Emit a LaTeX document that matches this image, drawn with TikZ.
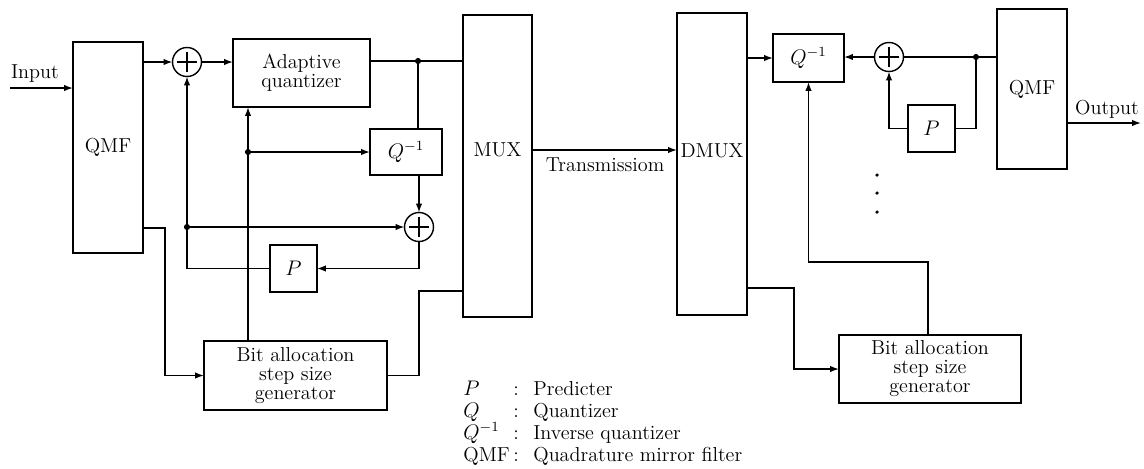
\documentclass[tikz,border=0pt]{standalone}
\usetikzlibrary{arrows.meta}
\begin{document}
\begin{tikzpicture}[x=0.02cm,y=-0.02cm,
  every node/.style={font=\fontsize{11.5}{10.8}\selectfont},
  blk/.style={draw, line width=0.8pt, inner sep=0pt, outer sep=0pt, align=center},
  sumnode/.style={draw, circle, line width=0.8pt, minimum size=0.58cm, inner sep=0pt, outer sep=0pt,
    path picture={\draw[line width=0.8pt]
      ([yshift=-0.2cm]path picture bounding box.center) -- ([yshift=0.2cm]path picture bounding box.center)
      ([xshift=-0.2cm]path picture bounding box.center) -- ([xshift=0.2cm]path picture bounding box.center);}},
  wire/.style={line width=0.8pt},
  arr/.style={wire, -{Latex[length=5pt,width=3.6pt]}},
  jdot/.style={circle, fill, inner sep=0pt, outer sep=0pt, minimum size=3.5pt},
  vdot/.style={circle, fill, inner sep=0pt, minimum size=2pt},
  lg/.style={anchor=base west, inner sep=0pt}]
\useasboundingbox (0,0) rectangle (1144,468);

% ---- left side blocks
\node[blk, minimum width=1.4cm, minimum height=4.22cm] (qmfL) at (108,147.5) {QMF};
\node[blk, minimum width=2.74cm, minimum height=1.36cm] (aq) at (301.5,73) {Adaptive\\quantizer};
\node[blk, minimum width=1.44cm, minimum height=0.92cm] (qiL) at (406,152) {$Q^{-1}$};
\node[blk, minimum width=0.94cm, minimum height=0.94cm] (pL) at (293.5,268.5) {$P$};
\node[blk, minimum width=3.66cm, minimum height=1.38cm] (baL) at (295.5,375.5) {Bit allocation\\step size\\generator};
\node[blk, minimum width=1.38cm, minimum height=6.04cm] (mux) at (497.5,166) {};
\node (muxt) at (497.5,150) {MUX};
\node[sumnode] (s1) at (187,62) {};
\node[sumnode] (s2) at (419,227) {};

% ---- right side blocks
\node[blk, minimum width=1.4cm, minimum height=6.04cm] (dmux) at (712,164) {};
\node (dmuxt) at (712,151) {DMUX};
\node[blk, minimum width=1.42cm, minimum height=0.96cm] (qiR) at (808.5,58) {$Q^{-1}$};
\node[blk, minimum width=0.94cm, minimum height=0.94cm] (pR) at (931.5,128.5) {$P$};
\node[blk, minimum width=1.4cm, minimum height=3.2cm] (qmfR) at (1032,89) {QMF};
\node[blk, minimum width=3.64cm, minimum height=1.36cm] (baR) at (930,369) {Bit allocation\\step size\\generator};
\node[sumnode] (sR) at (889,57) {};

% ---- labels
\node (inl) at (35,74) {Input};
\node (outl) at (1107,109) {Output};
\node (trans) at (605,165) {Transmissiom};

% ---- left connectors
\coordinate (inS) at (10,88);
\draw[arr] (inS) -- (inS -| qmfL.west);
\draw[arr] (qmfL.east |- s1) -- (s1.west);
\draw[arr] (s1.east) -- (aq.west |- s1);
\node[jdot] (j1) at (418,61) {};
\draw[wire] (aq.east |- j1) -- (j1) -- (j1 -| mux.west);
\draw[wire] (j1) -- (j1 |- qiL.north);
\draw[arr] (s2 |- qiL.south) -- (s2.north);
\draw[arr] (s2.south) |- (pL.east);
\draw[arr] (pL.west) -| (s1.south);
\node[jdot] (j2) at (187,227) {};
\draw[arr] (j2) -- (s2.west);
\node[jdot] (j3) at (248,152) {};
\draw[arr] (j3 |- baL.north) -- (j3 |- aq.south);
\draw[arr] (j3) -- (qiL.west);
\coordinate (k1) at (165,228);
\draw[arr] (k1 -| qmfL.east) -- (k1) |- (baL.west);
\coordinate (k2) at (419,291);
\draw[wire] (baL.east) -| (k2) -- (k2 -| mux.west);

% ---- transmission
\coordinate (tx) at (600,150);
\draw[arr] (mux.east |- tx) -- (dmux.west |- tx);

% ---- right connectors
\draw[arr] (dmux.east |- qiR) -- (qiR.west);
\draw[arr] (sR.west) -- (qiR.east |- sR);
\node[jdot] (j4) at (976,57) {};
\draw[wire] (sR.east) -- (j4) -- (j4 -| qmfR.west);
\draw[wire] (j4) |- (pR.east);
\draw[arr] (pR.west) -| (sR.south);
\coordinate (outc) at (1141,123);
\draw[arr] (qmfR.east |- outc) -- (outc);
\coordinate (k3) at (794,288);
\draw[arr] (dmux.east |- k3) -- (k3) |- (baR.west);
\coordinate (k4) at (928,262);
\draw[arr] (k4 |- baR.north) -- (k4) -| (qiR.south);

% ---- vertical ellipsis
\node[vdot] (d1) at (877,175) {};
\node[vdot] (d2) at (877,193) {};
\node[vdot] (d3) at (877,212) {};

% ---- legend
\node[lg] (l1s) at (463,395) {$P$};
\node[lg] (l1c) at (513,395) {:};
\node[lg] (l1d) at (533,395) {Predicter};
\node[lg] (l2s) at (463,417) {$Q$};
\node[lg] (l2c) at (513,417) {:};
\node[lg] (l2d) at (533,417) {Quantizer};
\node[lg] (l3s) at (463,439) {$Q^{-1}$};
\node[lg] (l3c) at (513,439) {:};
\node[lg] (l3d) at (533,439) {Inverse quantizer};
\node[lg] (l4s) at (463,461) {QMF};
\node[lg] (l4c) at (513,461) {:};
\node[lg] (l4d) at (533,461) {Quadrature mirror filter};
\end{tikzpicture}
\end{document}
